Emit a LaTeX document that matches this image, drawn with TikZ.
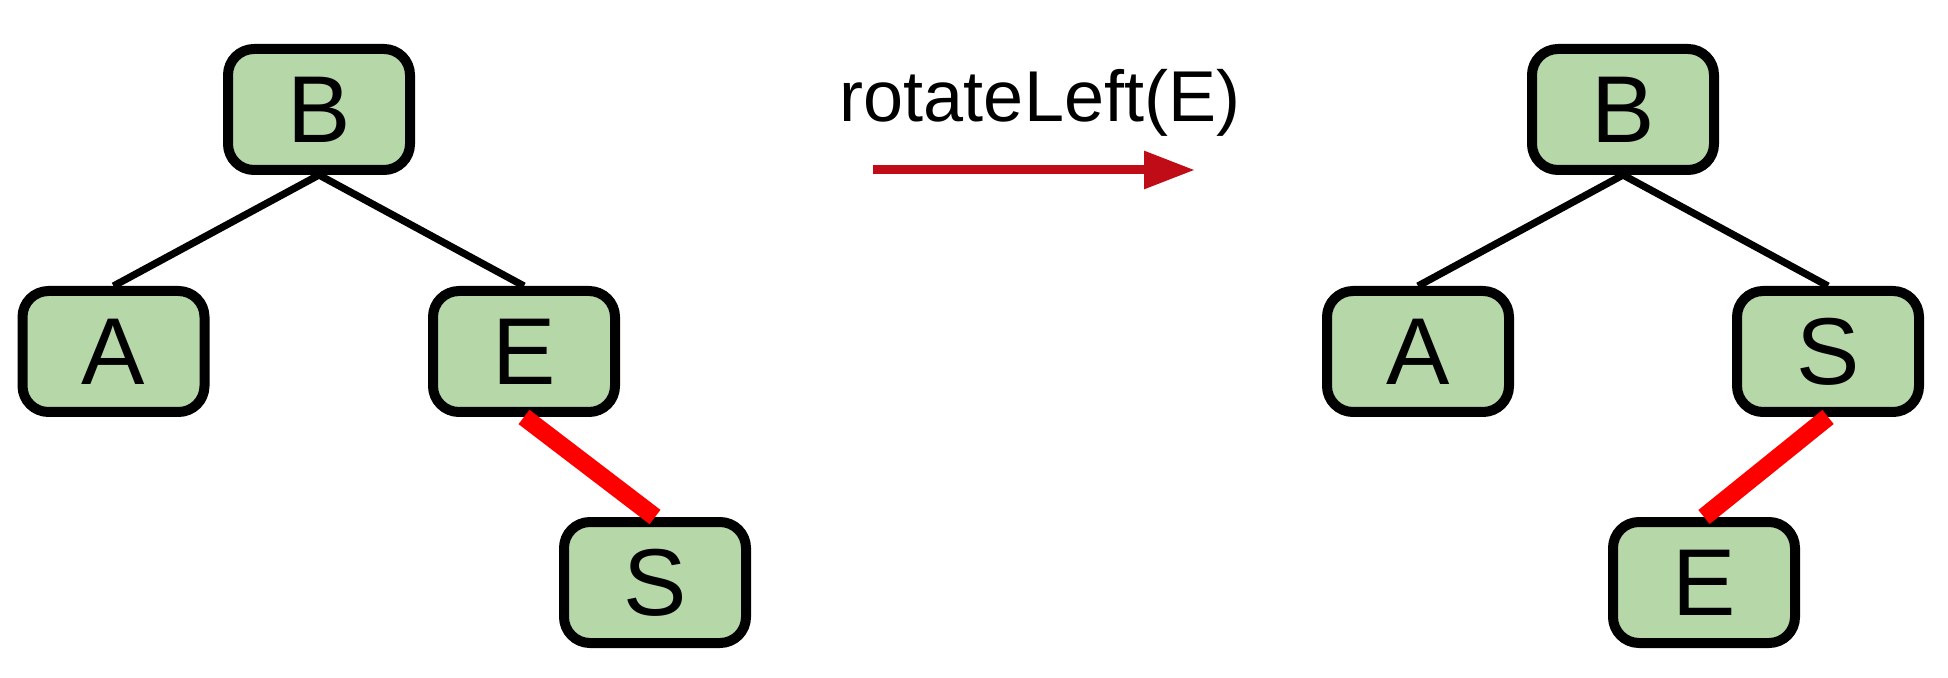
\documentclass[tikz,border=0pt]{standalone}
\usepackage{fontspec}
\setmainfont{Liberation Sans}
\usetikzlibrary{arrows.meta}
\definecolor{nodefill}{HTML}{B6D7A8}
\definecolor{arrowred}{RGB}{192,12,22}
\definecolor{hotred}{RGB}{255,0,0}
\begin{document}
\begin{tikzpicture}[x=0.5pt,y=-0.5pt,
  treenode/.style={draw=black,line width=5pt,fill=nodefill,rounded corners=13pt,
    minimum width=91pt,minimum height=60.5pt,inner sep=0pt,
    font=\fontsize{47.5}{50}\selectfont},
  edge/.style={draw=black,line width=3.6pt},
  hotedge/.style={draw=hotred,line width=9pt},
  oparrow/.style={draw=arrowred,line width=4.5pt,-{Triangle[length=25.5pt,width=18pt]}}]
\useasboundingbox (0,0) rectangle (1948,678);
% left tree
\node[treenode] (B1) at (319,109.5) {B};
\node[treenode] (A1) at (113.5,351.5) {A};
\node[treenode] (E1) at (524,351.5) {E};
\node[treenode] (S1) at (655,582.5) {S};
\draw[edge] (B1.south) -- (A1.north);
\draw[edge] (B1.south) -- (E1.north);
\draw[hotedge] (E1.south) -- (S1.north);
% operation
\node[font=\fontsize{36}{40}\selectfont,anchor=base] (op) at (1040,122) {rotateLeft(E)};
\coordinate (arS) at (873,170);
\coordinate (arE) at (1195,170);
\draw[oparrow] (arS) -- (arE);
% right tree
\node[treenode] (B2) at (1623,109.5) {B};
\node[treenode] (A2) at (1418,351.5) {A};
\node[treenode] (S2) at (1828,351.5) {S};
\node[treenode] (E2) at (1704,582.5) {E};
\draw[edge] (B2.south) -- (A2.north);
\draw[edge] (B2.south) -- (S2.north);
\draw[hotedge] (S2.south) -- (E2.north);
\end{tikzpicture}
\end{document}
